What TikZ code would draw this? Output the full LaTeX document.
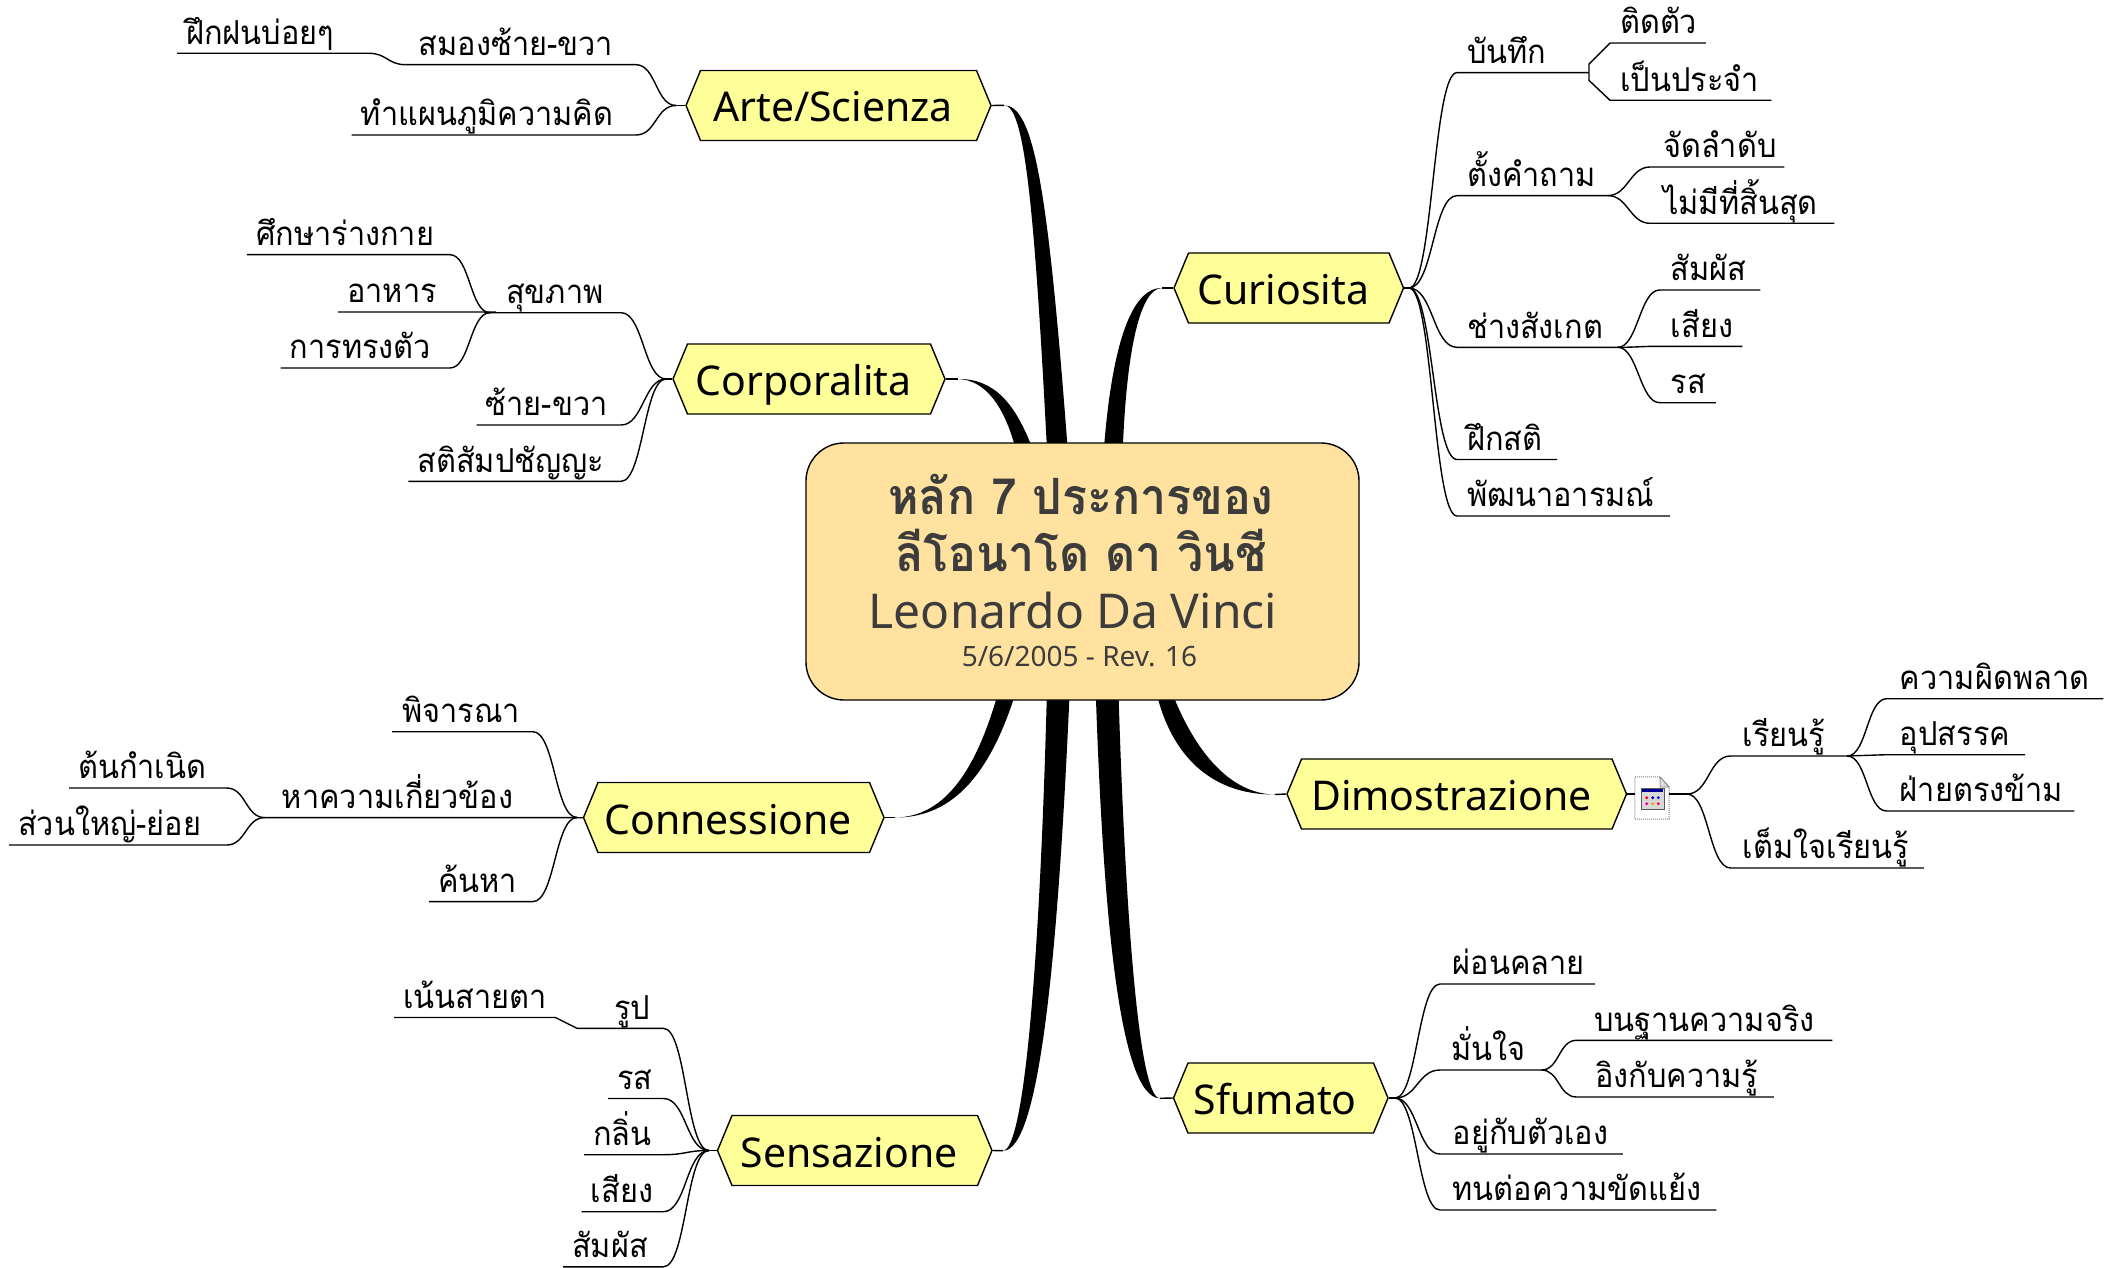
\documentclass[tikz,border=0pt]{standalone}
\usepackage{fontspec}
\setmainfont[Script=Thai,FakeStretch=0.93]{Loma}
\newfontfamily\latinfont{Noto Sans}
\usetikzlibrary{shapes.symbols}
\definecolor{rootfill}{HTML}{FFE29F}
\definecolor{topicfill}{HTML}{FFFF99}
\definecolor{inktext}{HTML}{3C3C3C}
\tikzset{
  twig/.style={draw=black,line width=1.4pt},
  sway/.style={to path={.. controls +(#1,0) and +(-#1,0) .. (\tikztotarget)}},
  topic/.style={signal,signal to=east and west,signal pointer angle=135,draw=black,line width=1.4pt,fill=topicfill,inner sep=0pt,minimum height=70pt,text height=36pt,text depth=3pt,font=\latinfont\fontsize{41}{48}\selectfont,execute at begin node=\kern-11pt},
  leaf/.style={anchor=south west,inner xsep=10pt,inner ysep=0pt,text depth=9pt,align=left,font=\fontsize{33}{40}\selectfont,execute at begin node={\exhyphenpenalty=10000 }},
  roottext/.style={anchor=base,text=inktext}
}
\begin{document}
\begin{tikzpicture}[x=1pt,y=-1pt]
\useasboundingbox (0,0) rectangle (2118,1268);
% main topics
\node[topic,minimum width=305pt] (arte) at (838.5,105.5) {Arte/Scienza};
\node[topic,minimum width=272pt] (corp) at (809,379) {Corporalita};
\node[topic,minimum width=300.5pt] (conn) at (733.75,817.5) {Connessione};
\node[topic,minimum width=274.5pt] (sens) at (854.75,1150.5) {Sensazione};
\node[topic,minimum width=229.5pt] (curi) at (1288.75,288) {Curiosita};
\node[topic,minimum width=339.5pt] (dimo) at (1456.75,794) {Dimostrazione};
\node[topic,minimum width=214.5pt] (sfum) at (1280.75,1098) {Sfumato};
% limbs
\coordinate (arteknee) at (1004,105.3);
\coordinate (artea) at (1046.7,444);
\coordinate (arteb) at (1067.3,444);
\draw[twig] (arte.east)--(arteknee);
\fill (arteknee) .. controls (1034,105) and (1048,190) .. (arteb)--(artea) .. controls (1034,200) and (1024,105) .. (arteknee);
\coordinate (corpknee) at (958,379);
\coordinate (corpa) at (1014.3,444);
\coordinate (corpb) at (1030.7,444);
\draw[twig] (corp.east)--(corpknee);
\fill (corpknee) .. controls (995,378.5) and (1015,405) .. (corpb)--(corpa) .. controls (1003,405) and (985,380) .. (corpknee);
\coordinate (curiknee) at (1162,288);
\coordinate (curia) at (1104.3,444);
\coordinate (curib) at (1123,444);
\draw[twig] (curi.west)--(curiknee);
\fill (curiknee) .. controls (1130,287.5) and (1112,350) .. (curia)--(curib) .. controls (1127,350) and (1140,288.5) .. (curiknee);
\coordinate (connknee) at (895,817.5);
\coordinate (conna) at (996,700);
\coordinate (connb) at (1013.3,700);
\draw[twig] (conn.east)--(connknee);
\fill (connknee) .. controls (945,817) and (975,770) .. (conna)--(connb) .. controls (990,770) and (955,818) .. (connknee);
\coordinate (sensknee) at (1003,1150.7);
\coordinate (sensa) at (1046.7,700);
\coordinate (sensb) at (1069.3,700);
\draw[twig] (sens.east)--(sensknee);
\fill (sensknee) .. controls (1025,1150) and (1040,950) .. (sensa)--(sensb) .. controls (1058,950) and (1040,1151.5) .. (sensknee);
\coordinate (sfumknee) at (1160,1098.3);
\coordinate (sfuma) at (1096,700);
\coordinate (sfumb) at (1118.7,700);
\draw[twig] (sfum.west)--(sfumknee);
\fill (sfumknee) .. controls (1118,1098) and (1103,900) .. (sfuma)--(sfumb) .. controls (1125,900) and (1138,1099) .. (sfumknee);
\coordinate (dimoknee) at (1275,794.5);
\coordinate (dimoa) at (1158.3,700);
\coordinate (dimob) at (1175,700);
\draw[twig] (dimo.west)--(dimoknee);
\fill (dimoknee) .. controls (1215,795) and (1175,760) .. (dimoa)--(dimob) .. controls (1200,760) and (1235,794) .. (dimoknee);
% central box
\node[draw=black,line width=1.4pt,fill=rootfill,rounded corners=38pt,minimum width=553pt,minimum height=257pt] (root) at (1082.5,571.5) {};
\node[roottext,font=\bfseries\fontsize{50}{58}\selectfont] (rootone) at (1081,514) {หลัก 7 ประการของ};
\node[roottext,font=\bfseries\fontsize{50}{58}\selectfont] (roottwo) at (1081,571.7) {ลีโอนาโด ดา วินชี};
\node[roottext,font=\latinfont\fontsize{48}{56}\selectfont] (rootthree) at (1073,628) {Leonardo Da Vinci};
\node[roottext,font=\latinfont\fontsize{28}{32}\selectfont] (rootfour) at (1079.5,666.7) {5/6/2005 - Rev. 16};
% curiosita
\coordinate (curij) at (1409,288);
\node[leaf,text width=111.6pt] (bt) at (1457,72.6) {บันทึก};
\node[leaf,text width=75.5pt] (btone) at (1610,43) {ติดตัว};
\node[leaf,text width=141pt] (bttwo) at (1610,100.3) {เป็นประจำ};
\node[leaf,text width=130.5pt] (tk) at (1457,195.6) {ตั้งคำถาม};
\node[leaf,inner xsep=13pt,text width=108pt] (tkone) at (1650,167) {จัดลำดับ};
\node[leaf,inner xsep=13pt,text width=158pt] (tktwo) at (1650,223.3) {ไม่มีที่สิ้นสุด};
\node[leaf,text width=140.4pt] (cs) at (1457,347.3) {ช่างสังเกต};
\node[leaf,inner xsep=11pt,text width=78.3pt] (csone) at (1659.7,290) {สัมผัส};
\node[leaf,inner xsep=11pt,text width=60.3pt] (cstwo) at (1659.7,346.3) {เสียง};
\node[leaf,inner xsep=11pt,text width=33.7pt] (csthree) at (1659.7,402.7) {รส};
\node[leaf,text width=79.7pt] (fs) at (1457,459.5) {ฝึกสติ};
\node[leaf,text width=192.6pt] (pt) at (1457,516) {พัฒนาอารมณ์};
\draw[twig] (curi.east)--(curij);
\draw[twig] (curij) to[sway=24] (bt.south west)--(bt.south east);
\draw[twig] (curij) to[sway=24] (tk.south west)--(tk.south east);
\draw[twig] (curij) to[sway=24] (cs.south west)--(cs.south east);
\draw[twig] (curij) to[sway=24] (fs.south west)--(fs.south east);
\draw[twig] (curij) to[sway=24] (pt.south west)--(pt.south east);
\draw[twig] (bt.south east)--++(0,-8.6)--(btone.south west)--(btone.south east);
\draw[twig] (bt.south east)--++(0,7.8)--(bttwo.south west)--(bttwo.south east);
\draw[twig] (tk.south east) to[sway=20] (tkone.south west)--(tkone.south east);
\draw[twig] (tk.south east) to[sway=20] (tktwo.south west)--(tktwo.south east);
\draw[twig] (cs.south east) to[sway=20] (csone.south west)--(csone.south east);
\draw[twig] (cs.south east) to[sway=20] (cstwo.south west)--(cstwo.south east);
\draw[twig] (cs.south east) to[sway=20] (csthree.south west)--(csthree.south east);
% dimostrazione
\node[minimum width=34pt,minimum height=42pt,inner sep=0pt] (icon) at (1652,798) {};
\draw[gray,densely dotted,fill=white,line width=1pt] (icon.north west)--(1660,777)--(icon.north east|-1660,787)--(icon.south east)--(icon.south west)--cycle;
\draw[gray,fill=gray!25,line width=.8pt] (1660,777)--(1660,787)--(1669,787)--cycle;
\fill[gray!30] (1641,788) rectangle (1664,809);
\draw[gray!70!black,line width=.8pt] (1641,788) rectangle (1664,809);
\fill[blue!60!black] (1642,789) rectangle (1663,792);
\fill[red] (1646.7,797.7) circle (1.6);
\fill[blue!70!black] (1652.7,797.7) circle (1.6);
\fill[blue] (1658.3,797.7) circle (1.6);
\fill[magenta] (1646.7,803.7) circle (1.6);
\fill[orange!80!yellow] (1652.7,803.7) circle (1.6);
\fill[red!70!magenta] (1658.3,803.7) circle (1.6);
\coordinate (dimoj) at (1687,794);
\node[leaf,inner xsep=12pt,text width=92pt] (rr) at (1730.7,756) {เรียนรู้};
\node[leaf,inner xsep=13pt,text width=190.3pt] (rrone) at (1886.7,698.7) {ความผิดพลาด};
\node[leaf,inner xsep=13pt,text width=111.9pt] (rrtwo) at (1886.7,754.7) {อุปสรรค};
\node[leaf,inner xsep=13pt,text width=161.3pt] (rrthree) at (1886.7,811) {ฝ่ายตรงข้าม};
\node[leaf,inner xsep=12pt,text width=168.7pt] (tj) at (1730.7,868) {เต็มใจเรียนรู้};
\draw[twig] (dimo.east)--(icon.west|-dimo.east);
\draw[twig] (icon.east|-dimo.east)--(dimoj);
\draw[twig] (dimoj) to[sway=22] (rr.south west)--(rr.south east);
\draw[twig] (dimoj) to[sway=22] (tj.south west)--(tj.south east);
\draw[twig] (rr.south east) to[sway=20] (rrone.south west)--(rrone.south east);
\draw[twig] (rr.south east) to[sway=20] (rrtwo.south west)--(rrtwo.south east);
\draw[twig] (rr.south east) to[sway=20] (rrthree.south west)--(rrthree.south east);
% sfumato
\coordinate (sfumj) at (1395,1098);
\node[leaf,inner xsep=12.5pt,text width=129.4pt] (pk) at (1440,984) {ผ่อนคลาย};
\node[leaf,inner xsep=11.5pt,text width=78pt] (mj) at (1440,1070) {มั่นใจ};
\node[leaf,inner xsep=17.5pt,text width=220.5pt] (mjone) at (1576.5,1040.3) {บนฐานความจริง};
\node[leaf,inner xsep=18.5pt,text width=160pt] (mjtwo) at (1576.5,1097) {อิงกับความรู้};
\node[leaf,inner xsep=12.5pt,text width=157.4pt] (yk) at (1440,1154) {อยู่กับตัวเอง};
\node[leaf,inner xsep=12.5pt,text width=251pt] (td) at (1440,1210) {ทนต่อความขัดแย้ง};
\draw[twig] (sfum.east)--(sfumj);
\draw[twig] (sfumj) to[sway=22] (pk.south west)--(pk.south east);
\draw[twig] (sfumj) to[sway=22] (mj.south west)--(mj.south east);
\draw[twig] (sfumj) to[sway=22] (yk.south west)--(yk.south east);
\draw[twig] (sfumj) to[sway=22] (td.south west)--(td.south east);
\draw[twig] (mj.south east) to[sway=18] (mjone.south west)--(mjone.south east);
\draw[twig] (mj.south east) to[sway=18] (mjtwo.south west)--(mjtwo.south east);
% arte
\coordinate (artej) at (676,105.5);
\node[leaf,inner xsep=13pt,text width=203.9pt] (sm) at (405.7,64.7) {สมองซ้าย-ขวา};
\node[leaf,inner xsep=9pt,text width=173.5pt] (fp) at (177,53.3) {ฝึกฝนบ่อยๆ};
\node[leaf,inner xsep=9pt,text width=266pt] (tp) at (351.6,135) {ทำแผนภูมิความคิด};
\draw[twig] (arte.west)--(artej);
\draw[twig] (artej) to[sway=-20] (sm.south east)--(sm.south west);
\draw[twig] (artej) to[sway=-20] (tp.south east)--(tp.south west);
\draw[twig] (sm.south west) to[sway=-18] (fp.south east)--(fp.south west);
% corporalita
\coordinate (corpj) at (666,379);
\node[leaf,inner xsep=16pt,text width=98.7pt] (sp) at (490,312.7) {สุขภาพ};
\node[leaf,inner xsep=9pt,text width=184.8pt] (spone) at (246.8,254.7) {ศึกษาร่างกาย};
\node[leaf,inner xsep=9pt,text width=134pt] (sptwo) at (338,312) {อาหาร};
\node[leaf,inner xsep=9pt,text width=151pt] (spthree) at (280.6,368) {การทรงตัว};
\node[leaf,inner xsep=9pt,text width=126pt] (ck) at (476.7,425) {ซ้าย-ขวา};
\node[leaf,inner xsep=9pt,text width=194.3pt] (ss) at (408.4,481.3) {สติสัมปชัญญะ};
\draw[twig] (corp.west)--(corpj);
\draw[twig] (corpj) to[sway=-22] (sp.south east)--(sp.south west);
\draw[twig] (corpj) to[sway=-22] (ck.south east)--(ck.south west);
\draw[twig] (corpj) to[sway=-22] (ss.south east)--(ss.south west);
\draw[twig] (sp.south west) to[sway=-20] (spone.south east)--(spone.south west);
\draw[twig] (sp.south west) to[sway=-20] (sptwo.south east)--(sptwo.south west);
\draw[twig] (sp.south west) to[sway=-20] (spthree.south east)--(spthree.south west);
% connessione
\coordinate (connj) at (577,817.5);
\node[leaf,text width=120.5pt] (pj) at (392,731.7) {พิจารณา};
\node[leaf,inner xsep=17pt,text width=278.3pt] (hk) at (264.7,817.6) {หาความเกี่ยวข้อง};
\node[leaf,inner xsep=9pt,text width=85.5pt] (kh) at (429,901.6) {ค้นหา};
\node[leaf,inner xsep=9pt,text width=139.4pt] (hkone) at (69,788) {ต้นกำเนิด};
\node[leaf,inner xsep=9pt,text width=199.4pt] (hktwo) at (9,845) {ส่วนใหญ่-ย่อย};
\draw[twig] (conn.west)--(connj);
\draw[twig] (connj) to[sway=-22] (pj.south east)--(pj.south west);
\draw[twig] (connj)--(hk.south east)--(hk.south west);
\draw[twig] (connj) to[sway=-22] (kh.south east)--(kh.south west);
\draw[twig] (hk.south west) to[sway=-19] (hkone.south east)--(hkone.south west);
\draw[twig] (hk.south west) to[sway=-19] (hktwo.south east)--(hktwo.south west);
% sensazione
\coordinate (sensj) at (709,1150.5);
\node[leaf,inner xsep=37pt,text width=12pt] (rp) at (577,1028.3) {รูป};
\node[leaf,inner xsep=9pt,text width=143pt] (ns) at (394,1017.5) {เน้นสายตา};
\node[leaf,inner xsep=9pt,text width=37pt] (rs) at (608,1098.5) {รส};
\node[leaf,inner xsep=9pt,text width=61pt] (kl) at (584,1154.7) {กลิ่น};
\node[leaf,inner xsep=9pt,text width=63.4pt] (sg) at (581.6,1211.7) {เสียง};
\node[leaf,inner xsep=9pt,text width=82pt] (sf) at (563,1266.8) {สัมผัส};
\draw[twig] (sens.west)--(sensj);
\draw[twig] (sensj) to[sway=-23] (rp.south east)--(rp.south west)--(ns.south east)--(ns.south west);
\draw[twig] (sensj) to[sway=-23] (rs.south east)--(rs.south west);
\draw[twig] (sensj) to[sway=-23] (kl.south east)--(kl.south west);
\draw[twig] (sensj) to[sway=-23] (sg.south east)--(sg.south west);
\draw[twig] (sensj) to[sway=-23] (sf.south east)--(sf.south west);
\end{tikzpicture}
\end{document}
